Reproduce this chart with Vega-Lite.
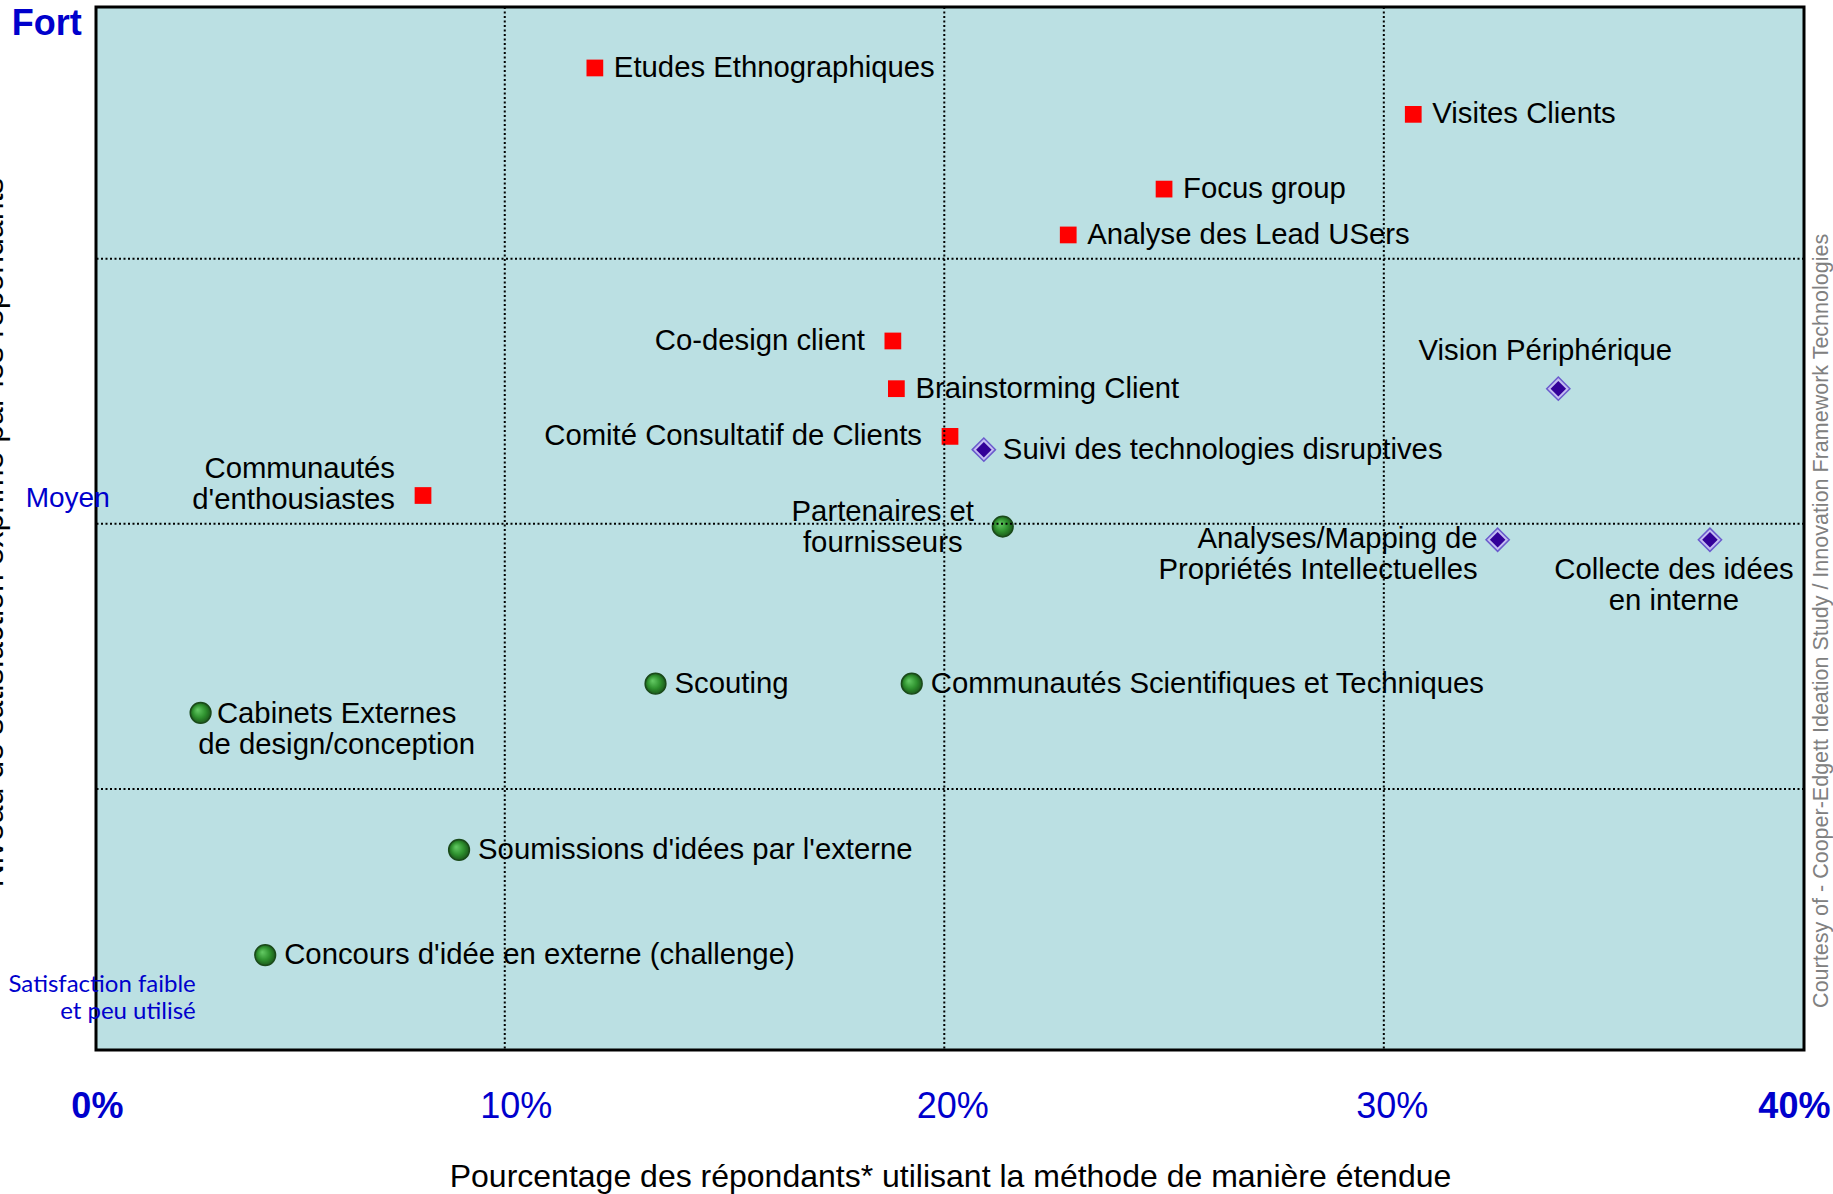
{
  "$schema": "https://vega.github.io/schema/vega-lite/v6.json",
  "width": 1708,
  "height": 1043,
  "autosize": {"type": "none"},
  "padding": {"left": 96, "top": 7, "right": 29, "bottom": 144},
  "background": "white",
  "config": {
    "view": {"fill": "#BBE0E3", "stroke": "#000000", "strokeWidth": 3},
    "text": {"font": "Liberation Sans"}
  },
  "datasets": {
    "methodes": [
      {"methode": "Etudes Ethnographiques", "type": "client", "x": 12.05, "y": 3.72, "pos": "droite"},
      {"methode": "Visites Clients", "type": "client", "x": 30.67, "y": 3.545, "pos": "droite"},
      {"methode": "Focus group", "type": "client", "x": 25.0, "y": 3.263, "pos": "droite"},
      {"methode": "Analyse des Lead USers", "type": "client", "x": 22.82, "y": 3.09, "pos": "droite"},
      {"methode": "Co-design client", "type": "client", "x": 18.83, "y": 2.69, "pos": "gauche"},
      {"methode": "Brainstorming Client", "type": "client", "x": 18.91, "y": 2.51, "pos": "droite"},
      {"methode": "Comité Consultatif de Clients", "type": "client", "x": 20.13, "y": 2.33, "pos": "gauche"},
      {"methode": ["Communautés", "d'enthousiastes"], "type": "client", "x": 8.14, "y": 2.107, "pos": "gauche-haut"},
      {"methode": "Suivi des technologies disruptives", "type": "tech", "x": 20.9, "y": 2.28, "pos": "droite"},
      {"methode": "Vision Périphérique", "type": "tech", "x": 33.97, "y": 2.51, "pos": "dessus"},
      {"methode": ["Analyses/Mapping de", "Propriétés Intellectuelles"], "type": "tech", "x": 32.59, "y": 1.94, "pos": "gauche-bas"},
      {"methode": ["Collecte des idées", "en interne"], "type": "tech", "x": 37.42, "y": 1.94, "pos": "dessous"},
      {"methode": ["Partenaires et", "fournisseurs"], "type": "externe", "x": 21.33, "y": 1.99, "pos": "gauche-centre"},
      {"methode": "Scouting", "type": "externe", "x": 13.43, "y": 1.397, "pos": "droite"},
      {"methode": "Communautés Scientifiques et Techniques", "type": "externe", "x": 19.26, "y": 1.397, "pos": "droite"},
      {"methode": ["Cabinets Externes", "de design/conception"], "type": "externe", "x": 3.08, "y": 1.287, "pos": "droite-bas"},
      {"methode": "Soumissions d'idées par l'externe", "type": "externe", "x": 8.96, "y": 0.77, "pos": "droite"},
      {"methode": "Concours d'idée en externe (challenge)", "type": "externe", "x": 4.55, "y": 0.373, "pos": "droite"}
    ],
    "grilleX": [{"v": 10}, {"v": 20}, {"v": 30}],
    "grilleY": [{"v": 1}, {"v": 2}, {"v": 3}],
    "annotations": [
      {"texte": "Fort", "role": "fort", "x": -0.42, "y": 3.885},
      {"texte": "Moyen", "role": "moyen", "x": 0.057, "y": 2.095},
      {"texte": ["Satisfaction faible", "et peu utilisé"], "role": "faible", "x": 2.97, "y": 0.2585},
      {"texte": "Courtesy of - Cooper-Edgett Ideation Study / Innovation Framework Technologies", "role": "credit", "x": 39.98, "y": 1.634}
    ]
  },
  "layer": [
    {
      "data": {"name": "methodes"},
      "transform": [{"filter": "datum.type === 'client'"}],
      "mark": {"type": "point", "shape": "square", "filled": true, "color": "#FF0000", "size": 280, "opacity": 1},
      "encoding": {
        "x": {
          "field": "x", "type": "quantitative",
          "scale": {"domain": [0.7, 39.56], "zero": false, "nice": false},
          "axis": {
            "title": "Pourcentage des répondants* utilisant la méthode de manière étendue",
            "values": [0.72, 10.25, 20.18, 30.18, 39.33],
            "labelExpr": "datum.value < 5 ? '0%' : datum.value < 15 ? '10%' : datum.value < 25 ? '20%' : datum.value < 35 ? '30%' : '40%'",
            "labelFontWeight": {"condition": {"test": "datum.value < 5 || datum.value > 35", "value": "bold"}, "value": "normal"},
            "labelFont": "Liberation Sans",
            "labelFontSize": 36,
            "labelColor": "#0000CC",
            "labelPadding": 39,
            "labelFlush": false,
            "labelOverlap": false,
            "ticks": false,
            "domain": false,
            "grid": false,
            "titleFont": "Liberation Sans",
            "titleFontSize": 32,
            "titleFontWeight": "normal",
            "titleColor": "#000000",
            "titleY": 136,
            "titleBaseline": "alphabetic"
          }
        },
        "y": {
          "field": "y", "type": "quantitative",
          "scale": {"domain": [0.015, 3.95], "zero": false, "nice": false},
          "axis": {
            "title": "Niveau de satisfaction exprimé par les répondants",
            "labels": false,
            "ticks": false,
            "domain": false,
            "grid": false,
            "titleFont": "Liberation Sans",
            "titleFontSize": 32,
            "titleFontWeight": "normal",
            "titleColor": "#000000",
            "titleX": -94,
            "titleY": 525,
            "titleAngle": 270,
            "titleAlign": "center",
            "titleBaseline": "alphabetic"
          }
        }
      }
    },
    {
      "data": {"name": "methodes"},
      "transform": [{"filter": "datum.type === 'tech'"}],
      "mark": {"type": "point", "shape": "diamond", "filled": true, "fill": "#C4BCF2", "stroke": "#6A5ACD", "strokeWidth": 1.5, "size": 540, "opacity": 1},
      "encoding": {
        "x": {"field": "x", "type": "quantitative"},
        "y": {"field": "y", "type": "quantitative"}
      }
    },
    {
      "data": {"name": "methodes"},
      "transform": [{"filter": "datum.type === 'tech'"}],
      "mark": {"type": "point", "shape": "diamond", "filled": true, "fill": "#330099", "size": 240, "opacity": 1},
      "encoding": {
        "x": {"field": "x", "type": "quantitative"},
        "y": {"field": "y", "type": "quantitative"}
      }
    },
    {
      "data": {"name": "methodes"},
      "transform": [{"filter": "datum.type === 'externe'"}],
      "mark": {
        "type": "circle", "size": 430, "opacity": 1, "stroke": "#1A4A1A", "strokeWidth": 1.5,
        "fill": {"gradient": "radial", "x1": 0.35, "y1": 0.35, "r1": 0, "x2": 0.5, "y2": 0.5, "r2": 0.55,
          "stops": [{"offset": 0, "color": "#66CC66"}, {"offset": 0.55, "color": "#2F922F"}, {"offset": 1, "color": "#174F17"}]}
      },
      "encoding": {
        "x": {"field": "x", "type": "quantitative"},
        "y": {"field": "y", "type": "quantitative"}
      }
    },
    {
      "data": {"name": "methodes"},
      "transform": [{"filter": "datum.pos === 'droite'"}],
      "mark": {"type": "text", "align": "left", "baseline": "middle", "dx": 19, "font": "Liberation Sans", "fontSize": 29.3, "lineHeight": 31, "color": "#000000"},
      "encoding": {
        "x": {"field": "x", "type": "quantitative"},
        "y": {"field": "y", "type": "quantitative"},
        "text": {"field": "methode", "type": "nominal"}
      }
    },
    {
      "data": {"name": "methodes"},
      "transform": [{"filter": "datum.pos === 'gauche'"}],
      "mark": {"type": "text", "align": "right", "baseline": "middle", "dx": -28, "font": "Liberation Sans", "fontSize": 29.3, "lineHeight": 31, "color": "#000000"},
      "encoding": {
        "x": {"field": "x", "type": "quantitative"},
        "y": {"field": "y", "type": "quantitative"},
        "text": {"field": "methode", "type": "nominal"}
      }
    },
    {
      "data": {"name": "methodes"},
      "transform": [{"filter": "datum.pos === 'gauche-haut'"}],
      "mark": {"type": "text", "align": "right", "baseline": "middle", "dx": -28, "dy": -27, "font": "Liberation Sans", "fontSize": 29.3, "lineHeight": 31, "color": "#000000"},
      "encoding": {
        "x": {"field": "x", "type": "quantitative"},
        "y": {"field": "y", "type": "quantitative"},
        "text": {"field": "methode", "type": "nominal"}
      }
    },
    {
      "data": {"name": "methodes"},
      "transform": [{"filter": "datum.pos === 'gauche-bas'"}],
      "mark": {"type": "text", "align": "right", "baseline": "middle", "dx": -20, "dy": -1, "font": "Liberation Sans", "fontSize": 29.3, "lineHeight": 31, "color": "#000000"},
      "encoding": {
        "x": {"field": "x", "type": "quantitative"},
        "y": {"field": "y", "type": "quantitative"},
        "text": {"field": "methode", "type": "nominal"}
      }
    },
    {
      "data": {"name": "methodes"},
      "transform": [{"filter": "datum.pos === 'dessus'"}],
      "mark": {"type": "text", "align": "center", "baseline": "middle", "dx": -13, "dy": -38, "font": "Liberation Sans", "fontSize": 29.3, "lineHeight": 31, "color": "#000000"},
      "encoding": {
        "x": {"field": "x", "type": "quantitative"},
        "y": {"field": "y", "type": "quantitative"},
        "text": {"field": "methode", "type": "nominal"}
      }
    },
    {
      "data": {"name": "methodes"},
      "transform": [{"filter": "datum.pos === 'dessous'"}],
      "mark": {"type": "text", "align": "center", "baseline": "middle", "dx": -36, "dy": 30, "font": "Liberation Sans", "fontSize": 29.3, "lineHeight": 31, "color": "#000000"},
      "encoding": {
        "x": {"field": "x", "type": "quantitative"},
        "y": {"field": "y", "type": "quantitative"},
        "text": {"field": "methode", "type": "nominal"}
      }
    },
    {
      "data": {"name": "methodes"},
      "transform": [{"filter": "datum.pos === 'gauche-centre'"}],
      "mark": {"type": "text", "align": "center", "baseline": "middle", "dx": -120, "dy": -15, "font": "Liberation Sans", "fontSize": 29.3, "lineHeight": 31, "color": "#000000"},
      "encoding": {
        "x": {"field": "x", "type": "quantitative"},
        "y": {"field": "y", "type": "quantitative"},
        "text": {"field": "methode", "type": "nominal"}
      }
    },
    {
      "data": {"name": "methodes"},
      "transform": [{"filter": "datum.pos === 'droite-bas'"}],
      "mark": {"type": "text", "align": "center", "baseline": "middle", "dx": 136, "dy": 1, "font": "Liberation Sans", "fontSize": 29.3, "lineHeight": 31, "color": "#000000"},
      "encoding": {
        "x": {"field": "x", "type": "quantitative"},
        "y": {"field": "y", "type": "quantitative"},
        "text": {"field": "methode", "type": "nominal"}
      }
    },
    {
      "data": {"name": "annotations"},
      "transform": [{"filter": "datum.role === 'fort'"}],
      "mark": {"type": "text", "align": "center", "baseline": "middle", "font": "Liberation Sans", "fontSize": 36, "fontWeight": "bold", "color": "#0000CC"},
      "encoding": {
        "x": {"field": "x", "type": "quantitative"},
        "y": {"field": "y", "type": "quantitative"},
        "text": {"field": "texte", "type": "nominal"}
      }
    },
    {
      "data": {"name": "annotations"},
      "transform": [{"filter": "datum.role === 'moyen'"}],
      "mark": {"type": "text", "align": "center", "baseline": "middle", "font": "Liberation Sans", "fontSize": 28, "color": "#0000CC"},
      "encoding": {
        "x": {"field": "x", "type": "quantitative"},
        "y": {"field": "y", "type": "quantitative"},
        "text": {"field": "texte", "type": "nominal"}
      }
    },
    {
      "data": {"name": "annotations"},
      "transform": [{"filter": "datum.role === 'faible'"}],
      "mark": {"type": "text", "align": "right", "baseline": "middle", "font": "Lato", "fontSize": 24, "lineHeight": 27, "color": "#0000CC"},
      "encoding": {
        "x": {"field": "x", "type": "quantitative"},
        "y": {"field": "y", "type": "quantitative"},
        "text": {"field": "texte", "type": "nominal"}
      }
    },
    {
      "data": {"name": "annotations"},
      "transform": [{"filter": "datum.role === 'credit'"}],
      "mark": {"type": "text", "align": "center", "baseline": "middle", "angle": 270, "font": "Liberation Sans", "fontSize": 21.5, "color": "#808080"},
      "encoding": {
        "x": {"field": "x", "type": "quantitative"},
        "y": {"field": "y", "type": "quantitative"},
        "text": {"field": "texte", "type": "nominal"}
      }
    },
    {
      "data": {"name": "grilleX"},
      "mark": {"type": "rule", "color": "#000000", "strokeWidth": 2, "strokeDash": [2, 2.5]},
      "encoding": {
        "x": {"field": "v", "type": "quantitative"}
      }
    },
    {
      "data": {"name": "grilleY"},
      "mark": {"type": "rule", "color": "#000000", "strokeWidth": 2, "strokeDash": [2, 2.5]},
      "encoding": {
        "y": {"field": "v", "type": "quantitative"}
      }
    }
  ]
}
